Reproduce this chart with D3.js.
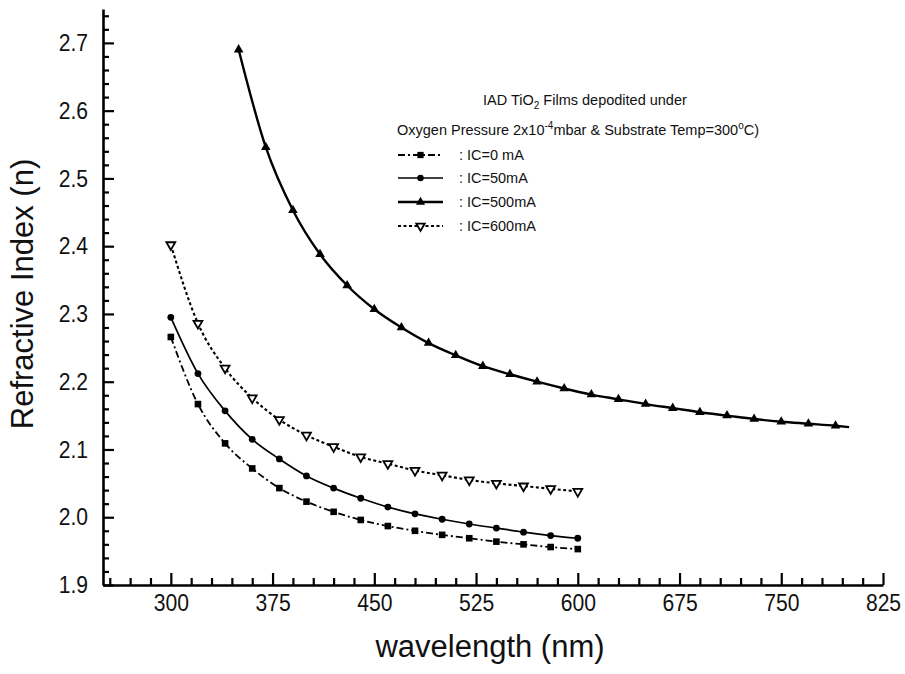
<!DOCTYPE html>
<html>
<head>
<meta charset="utf-8">
<script src="https://cdn.jsdelivr.net/npm/d3@7/dist/d3.min.js"></script>
<style>
  html, body { margin: 0; padding: 0; background: #fff; }
  svg { display: block; font-family: "Liberation Sans", Arial, sans-serif; }
</style>
</head>
<body>
<svg id="chart" width="905" height="674"></svg>
<script>
// Wavelength grid (nm) shared by the 0, 50 and 600 mA films
const wavelengths = [300, 320, 340, 360, 380, 400, 420, 440, 460, 480, 500, 520, 540, 560, 580, 600];

// Refractive index for each ion-source current
const nIC0   = [2.266, 2.167, 2.109, 2.072, 2.043, 2.023, 2.008, 1.996, 1.987, 1.980, 1.974, 1.969, 1.964, 1.960, 1.956, 1.953];
const nIC50  = [2.295, 2.212, 2.157, 2.115, 2.086, 2.061, 2.043, 2.028, 2.015, 2.005, 1.997, 1.990, 1.984, 1.978, 1.973, 1.969];
const nIC600 = [2.402, 2.286, 2.220, 2.176, 2.144, 2.121, 2.104, 2.089, 2.079, 2.069, 2.062, 2.055, 2.050, 2.046, 2.042, 2.038];

// The 500 mA film was measured over a wider range
const wavelengths500 = [350, 370, 390, 410, 430, 450, 470, 490, 510, 530, 550, 570, 590, 610, 630, 650, 670, 690, 710, 730, 750, 770, 790];
const nIC500 = [2.690, 2.546, 2.453, 2.388, 2.342, 2.307, 2.280, 2.257, 2.239, 2.223, 2.211, 2.200, 2.190, 2.181, 2.174, 2.167, 2.161, 2.155, 2.150, 2.145, 2.141, 2.138, 2.135];
// curve continues past the last marker
const curveEnd500 = { wl: 800, n: 2.133 };

const seriesLabels = ["IC=0 mA", "IC=50mA", "IC=500mA", "IC=600mA"];

const xTicks = [300, 375, 450, 525, 600, 675, 750, 825];
const yTicks = [1.9, 2.0, 2.1, 2.2, 2.3, 2.4, 2.5, 2.6, 2.7];

// ---------- layout ----------
const W = 905, H = 674;
const margin = { left: 103, right: 22, top: 9, bottom: 89 };
const svg = d3.select("#chart");

const x = d3.scaleLinear().domain([250, 825]).range([margin.left, W - margin.right]);
const y = d3.scaleLinear().domain([1.9, 2.75]).range([H - margin.bottom, margin.top]);

// ---------- axes ----------
const xMinor = d3.range(255, 825, 15).filter(v => (v - 300) % 75 !== 0);
const yMinor = d3.range(1.92, 2.75, 0.02).map(v => +v.toFixed(2))
  .filter(v => Math.abs(v * 10 - Math.round(v * 10)) > 1e-6);

const gx = svg.append("g").attr("transform", `translate(0,${H - margin.bottom})`);
gx.append("g")
  .call(d3.axisBottom(x).tickValues(xMinor).tickSizeInner(-7).tickSizeOuter(0).tickFormat(""))
  .call(g => g.select(".domain").remove());
gx.append("g")
  .call(d3.axisBottom(x).tickValues(xTicks).tickSizeInner(-12).tickSizeOuter(0).tickPadding(9).tickFormat(d3.format("d")))
  .call(g => g.select(".domain").attr("stroke-width", 2.6));

const gy = svg.append("g").attr("transform", `translate(${margin.left},0)`);
gy.append("g")
  .call(d3.axisLeft(y).tickValues(yMinor).tickSizeInner(-6).tickSizeOuter(0).tickFormat(""))
  .call(g => g.select(".domain").remove());
gy.append("g")
  .call(d3.axisLeft(y).tickValues(yTicks).tickSizeInner(-11).tickSizeOuter(0).tickPadding(15).tickFormat(d3.format(".1f")))
  .call(g => g.select(".domain").attr("stroke-width", 2.6));

svg.selectAll(".tick line").attr("stroke", "#000").attr("stroke-width", 2.2);
svg.selectAll(".tick text")
  .attr("fill", "#111")
  .style("font-size", "24px")
  .style("font-family", "'Liberation Sans', Arial, sans-serif");
gx.selectAll(".tick text").attr("transform", "scale(0.88,1)");
gy.selectAll(".tick text").attr("transform", "scale(0.88,1)").attr("x", -15 / 0.88);

// axis titles
svg.append("text")
  .attr("x", 490).attr("y", 657)
  .attr("text-anchor", "middle")
  .style("font-size", "31px")
  .attr("fill", "#111")
  .text("wavelength (nm)");

svg.append("text")
  .attr("transform", `translate(33,294) rotate(-90)`)
  .attr("text-anchor", "middle")
  .style("font-size", "31px")
  .attr("fill", "#111")
  .text("Refractive Index (n)");

// ---------- series ----------
const line = d3.line().x(d => x(d.wl)).y(d => y(d.n)).curve(d3.curveMonotoneX);
const zipSeries = (wls, ns) => wls.map((wl, i) => ({ wl, n: ns[i] }));

const series = [
  { label: seriesLabels[0], pts: zipSeries(wavelengths, nIC0),  extra: [], dash: "7,3,2,3", width: 1.8, marker: "square" },
  { label: seriesLabels[1], pts: zipSeries(wavelengths, nIC50), extra: [], dash: null,      width: 1.7, marker: "circle" },
  { label: seriesLabels[2], pts: zipSeries(wavelengths500, nIC500), extra: [curveEnd500], dash: null, width: 2.4, marker: "triUp" },
  { label: seriesLabels[3], pts: zipSeries(wavelengths, nIC600), extra: [], dash: "3,2.5",  width: 2.1, marker: "triDown" }
];

function drawMarker(g, type, cx, cy, scale) {
  const s = scale || 1;
  if (type === "square") {
    g.append("rect").attr("x", cx - 3.3 * s).attr("y", cy - 3.3 * s)
      .attr("width", 6.6 * s).attr("height", 6.6 * s).attr("fill", "#000");
  } else if (type === "circle") {
    g.append("circle").attr("cx", cx).attr("cy", cy).attr("r", 3.4 * s).attr("fill", "#000");
  } else if (type === "triUp") {
    const sym = d3.symbol().type(d3.symbolTriangle).size(40 * s * s);
    g.append("path").attr("d", sym()).attr("transform", `translate(${cx},${cy})`).attr("fill", "#000");
  } else if (type === "triDown") {
    const sym = d3.symbol().type(d3.symbolTriangle).size(34 * s * s);
    g.append("path").attr("d", sym()).attr("transform", `translate(${cx},${cy}) rotate(180)`)
      .attr("fill", "#fff").attr("stroke", "#000").attr("stroke-width", 1.8);
  }
}

const plot = svg.append("g");
series.forEach(s => {
  plot.append("path")
    .datum(s.pts.concat(s.extra))
    .attr("d", line)
    .attr("fill", "none")
    .attr("stroke", "#000")
    .attr("stroke-width", s.width)
    .attr("stroke-dasharray", s.dash);
  const mg = plot.append("g");
  s.pts.forEach(p => drawMarker(mg, s.marker, x(p.wl), y(p.n)));
});

// ---------- legend ----------
const legend = svg.append("g").style("font-size", "14.5px").attr("fill", "#111");

const title1 = legend.append("text").attr("x", 483).attr("y", 105);
title1.append("tspan").text("IAD TiO");
title1.append("tspan").attr("dy", 4).style("font-size", "10px").text("2");
title1.append("tspan").attr("dy", -4).text(" Films  depodited under");

const title2 = legend.append("text").attr("x", 397).attr("y", 135);
title2.append("tspan").text("Oxygen Pressure 2x10");
title2.append("tspan").attr("dy", -6).style("font-size", "10px").text("-4");
title2.append("tspan").attr("dy", 6).text("mbar & Substrate Temp=300");
title2.append("tspan").attr("dy", -6).style("font-size", "10px").text("o");
title2.append("tspan").attr("dy", 6).text("C)");

const rowY = [155, 178, 202, 226];
series.forEach((s, i) => {
  const ry = rowY[i];
  legend.append("line")
    .attr("x1", 398).attr("x2", 443).attr("y1", ry).attr("y2", ry)
    .attr("stroke", "#000").attr("stroke-width", s.width)
    .attr("stroke-dasharray", s.dash);
  drawMarker(legend, s.marker, 420.5, ry, 0.95);
  legend.append("text").attr("x", 459).attr("y", ry + 5).text(":");
  legend.append("text").attr("x", 467).attr("y", ry + 5).text(s.label);
});
</script>
</body>
</html>
